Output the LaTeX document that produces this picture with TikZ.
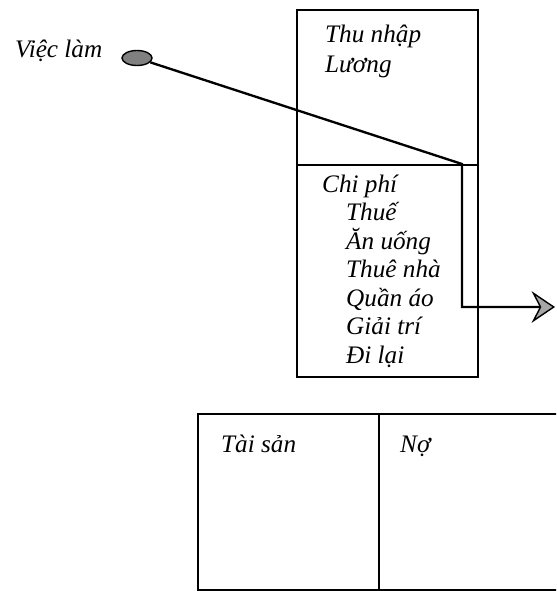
\documentclass[tikz,border=0pt]{standalone}
\usepackage{fontspec}
\setmainfont{Liberation Serif}
\usetikzlibrary{shapes,calc,positioning,arrows.meta}

\begin{document}
\begin{tikzpicture}[
	%	style def
	x=0.03cm, y=-0.03cm,
	box line/.style={line width=2.2pt},
	flow line/.style={line width=2pt},
	item/.style={anchor=base west, inner sep=0pt, font=\fontsize{21.5}{24}\selectfont\itshape}
	]
	\clip (0,0) rectangle (556,591);

	% income / expense box
	\draw[box line] (297,10) rectangle (478,377);
	\draw[box line] (297,165) -- (478,165);
	\node[item] (income) at (325,43) {Thu nhập};
	\node[item] (salary) at (325,72) {Lương};
	\node[item] (cost) at (322,192) {Chi phí};
	\node[item] (tax) at (346,220.5) {Thuế};
	\node[item] (food) at (346,249) {Ăn uống};
	\node[item] (rent) at (346,277.5) {Thuê nhà};
	\node[item] (clothes) at (346,306) {Quần áo};
	\node[item] (fun) at (346,334.5) {Giải trí};
	\node[item] (travel) at (346,363) {Đi lại};

	% job with its flow through the box
	\node[item] (joblabel) at (15,58) {Việc làm};
	\node[ellipse, draw, fill=gray, line width=1.2pt, minimum width=0.9cm, minimum height=0.45cm, inner sep=0pt] (job) at (137,58) {};
	\coordinate (turn) at (462,164);
	\coordinate (bend) at (462,307);
	\coordinate (out) at (555,307);
	\draw[flow line, -{Stealth[length=20pt, width=27pt, inset=7pt, line width=1.2pt, fill=gray!70]}] (job) -- (turn) -- (bend) -- (out);

	% balance sheet
	\draw[box line] (198,414) rectangle (600,590);
	\draw[box line] (379,414) -- (379,591);
	\node[item] (assets) at (221,452) {Tài sản};
	\node[item] (debt) at (400,452) {Nợ};
\end{tikzpicture}
\end{document}
